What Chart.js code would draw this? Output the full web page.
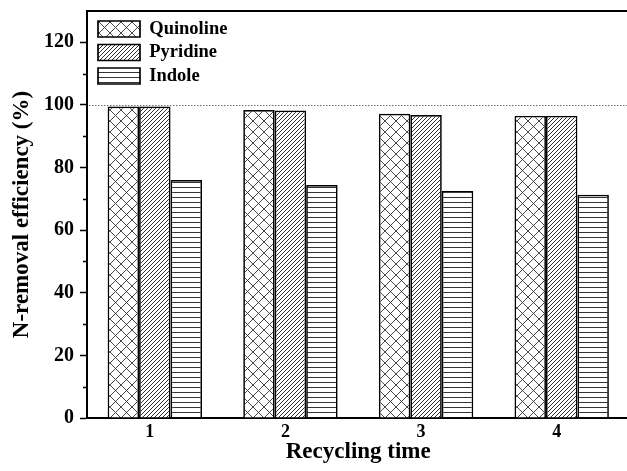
<!DOCTYPE html>
<html>
<head>
<meta charset="utf-8">
<script src="https://cdn.jsdelivr.net/npm/chart.js@4.4.0/dist/chart.umd.min.js"></script>
<style>
html,body{margin:0;padding:0;background:#fff;overflow:hidden;width:627px;height:471px}
#wrap{position:relative;width:640px;height:471px}
</style>
</head>
<body>
<div id="wrap"><canvas id="c" width="640" height="471"></canvas></div>
<script>
// ---- data ----
const categories = ['1', '2', '3', '4'];
const seriesNames = ['Quinoline', 'Pyridine', 'Indole'];
const quinoline = [99.5, 98.4, 97.2, 96.5];
const pyridine = [99.5, 98.2, 96.8, 96.5];
const indole = [76.0, 74.4, 72.5, 71.3];
const yTicks = [0, 20, 40, 60, 80, 100, 120];
const yMinorTicks = [10, 30, 50, 70, 90, 110];
const referenceLevel = 100;
const xTitle = 'Recycling time';
const yTitle = 'N-removal efficiency (%)';

// ---- hatch patterns ----
function makePattern(kind) {
  const cv = document.createElement('canvas');
  const g = cv.getContext('2d');
  if (kind === 'cross') {
    cv.width = 11; cv.height = 11;
    g.fillStyle = '#fff'; g.fillRect(0, 0, 11, 11);
    g.strokeStyle = '#333'; g.lineWidth = 0.9;
    g.beginPath();
    g.moveTo(-1, -1); g.lineTo(12, 12);
    g.moveTo(-1, 12); g.lineTo(12, -1);
    g.stroke();
  } else if (kind === 'diag') {
    cv.width = 4; cv.height = 4;
    g.fillStyle = '#fff'; g.fillRect(0, 0, 4, 4);
    g.strokeStyle = '#333'; g.lineWidth = 1;
    g.beginPath();
    g.moveTo(-1, 5); g.lineTo(5, -1);
    g.stroke();
  } else {
    cv.width = 10; cv.height = 5;
    g.fillStyle = '#fff'; g.fillRect(0, 0, 10, 5);
    g.fillStyle = '#333';
    g.fillRect(0, 2, 10, 1);
  }
  return g.createPattern(cv, 'repeat');
}
const patterns = [makePattern('cross'), makePattern('diag'), makePattern('horiz')];
const seriesValues = [quinoline, pyridine, indole];

const FONT = "'Liberation Serif', 'Times New Roman', serif";
Chart.defaults.font.family = FONT;
Chart.defaults.font.weight = 'bold';
Chart.defaults.color = '#000';

const framePlugin = {
  id: 'frame',
  afterLayout(chart) {
    const lg = chart.legend;
    if (lg) {
      lg.left = chart.chartArea.left + 6;
      lg.top = chart.chartArea.top + 3.75;
      lg.bottom = lg.top + lg.height;
    }
  },
  afterDatasetsDraw(chart) {
    const { ctx, chartArea: a, scales: { y } } = chart;
    const yy = Math.round(y.getPixelForValue(referenceLevel));
    ctx.save();
    ctx.fillStyle = 'rgb(232,60,60)';
    for (let x = a.left + 2; x < a.right; x += 3) {
      ctx.fillRect(x, yy, 1.5, 1);
    }
    ctx.restore();
  },
  afterDraw(chart) {
    const { ctx, chartArea: a, scales: { y } } = chart;
    ctx.save();
    ctx.strokeStyle = '#000';
    ctx.lineWidth = 2;
    ctx.beginPath();
    ctx.moveTo(a.left - 1, a.top);
    ctx.lineTo(a.right, a.top);
    ctx.lineTo(a.right, a.bottom);
    ctx.stroke();
    ctx.lineWidth = 1.5;
    ctx.beginPath();
    yMinorTicks.forEach(v => {
      const py = Math.round(y.getPixelForValue(v)) + 0.5;
      ctx.moveTo(a.left - 4, py);
      ctx.lineTo(a.left, py);
    });
    ctx.stroke();
    ctx.restore();
  }
};

new Chart(document.getElementById('c'), {
  type: 'bar',
  data: {
    labels: categories,
    datasets: seriesNames.map((name, i) => ({
      label: name,
      data: seriesValues[i],
      backgroundColor: patterns[i],
      borderColor: '#000',
      borderWidth: 1.7,
      barPercentage: 1,
      categoryPercentage: 0.696
    }))
  },
  options: {
    responsive: false,
    animation: false,
    devicePixelRatio: 1,
    layout: { padding: { left: 0, top: 11, right: 10.5, bottom: 0 } },
    plugins: {
      tooltip: { enabled: false },
      legend: {
        position: 'chartArea',
        align: 'start',
        labels: {
          boxWidth: 42,
          boxHeight: 16,
          padding: 5,
          color: '#000',
          font: { family: FONT, size: 18.5, weight: 'bold' }
        }
      }
    },
    scales: {
      x: {
        type: 'category',
        grid: { display: false, drawTicks: false },
        border: { display: true, color: '#000', width: 2 },
        ticks: { labelOffset: -5, padding: 3.7, color: '#000', font: { size: 18, weight: 'bold' } },
        title: { display: true, text: xTitle, color: '#000', font: { size: 23, weight: 'bold' }, padding: { top: 0, bottom: 5 } },
        afterFit: s => { s.height = 53; s.paddingLeft = 0; s.paddingRight = 0; }
      },
      y: {
        min: 0,
        max: 130,
        afterBuildTicks: s => { s.ticks = yTicks.map(v => ({ value: v })); },
        grid: { drawOnChartArea: false, drawTicks: true, tickLength: 7, tickWidth: 1.5, tickColor: '#000' },
        border: { display: true, color: '#000', width: 2 },
        ticks: { padding: 6, color: '#000', font: { size: 20, weight: 'bold' } },
        title: { display: true, text: yTitle, color: '#000', font: { size: 23, weight: 'bold' }, padding: { top: 8, bottom: 0 } },
        afterFit: s => { s.width = 87; s.paddingTop = 0; s.paddingBottom = 0; }
      }
    }
  },
  plugins: [framePlugin]
});
</script>
</body>
</html>
